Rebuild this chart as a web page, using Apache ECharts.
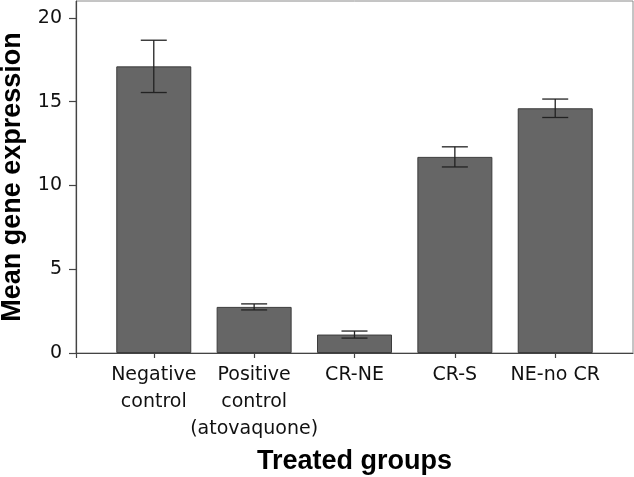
<!DOCTYPE html>
<html>
<head>
<meta charset="utf-8">
<script src="https://cdn.jsdelivr.net/npm/echarts@6/dist/echarts.min.js"></script>
<style>html,body{margin:0;padding:0;background:#fff;}#c{width:634px;height:477px;}</style>
</head>
<body>
<div id="c"></div>
<script>
var categories = ['Negative\ncontrol', 'Positive\ncontrol\n(atovaquone)', 'CR-NE', 'CR-S', 'NE-no CR'];
var means = [17.1, 2.75, 1.1, 11.7, 14.6];
var errors = [1.56, 0.18, 0.21, 0.6, 0.55];
var yTicks = [0, 5, 10, 15, 20];

// category slots placed at 1..5 on a value axis
var positions = categories.map(function (_, i) { return i + 1; });
var barData = means.map(function (m, i) { return [positions[i], m]; });
var errData = means.map(function (m, i) { return [positions[i], m - errors[i], m + errors[i]]; });
var xMin = 0.225, xMax = 5.775;
var xTickValues = [xMin].concat(positions);

var chart = echarts.init(document.getElementById('c'), null, { renderer: 'canvas' });
chart.setOption({
  animation: false,
  backgroundColor: '#fff',
  grid: { left: 76, right: 1, top: 1, bottom: 124, show: true, borderColor: '#8a8a8a', borderWidth: 1,
          backgroundColor: 'transparent', containLabel: false, outerBoundsMode: 'none' },
  xAxis: {
    type: 'value', min: xMin, max: xMax,
    name: 'Treated groups', nameLocation: 'middle', nameGap: 94,
    nameTextStyle: { fontFamily: 'Liberation Sans', fontWeight: 'bold', fontSize: 27, color: '#000' },
    axisLine: { show: true, onZero: false, lineStyle: { color: '#444', width: 1.2 } },
    axisTick: { show: true, length: 5, customValues: xTickValues, lineStyle: { color: '#444', width: 1.2 } },
    splitLine: { show: false },
    axisLabel: {
      customValues: xTickValues, margin: 9, hideOverlap: false, showMinLabel: true,
      fontFamily: 'DejaVu Sans', fontSize: 19, color: '#111', lineHeight: 27,
      formatter: function (v) {
        var k = Math.round(v);
        return Math.abs(v - k) < 1e-6 && categories[k - 1] ? categories[k - 1] : '';
      }
    }
  },
  yAxis: {
    type: 'value', min: 0, max: 21,
    name: 'Mean gene expression', nameLocation: 'middle', nameGap: 50,
    nameTextStyle: { fontFamily: 'Liberation Sans', fontWeight: 'bold', fontSize: 27, color: '#000' },
    axisLine: { show: true, onZero: false, lineStyle: { color: '#444', width: 1.2 } },
    axisTick: { show: true, length: 7, customValues: yTicks, lineStyle: { color: '#444', width: 1.2 } },
    splitLine: { show: false },
    axisLabel: { customValues: yTicks, margin: 14, fontFamily: 'DejaVu Sans', fontSize: 19, color: '#111' }
  },
  series: [
    {
      type: 'bar', data: barData, barWidth: 75,
      itemStyle: { color: '#666666', borderColor: '#3c3c3c', borderWidth: 1 }
    },
    {
      type: 'custom', data: errData, z: 5,
      renderItem: function (params, api) {
        var x = api.value(0);
        var lo = api.coord([x, api.value(1)]);
        var hi = api.coord([x, api.value(2)]);
        var hw = 13;
        var st = { stroke: '#222', lineWidth: 1.3 };
        return {
          type: 'group',
          children: [
            { type: 'line', shape: { x1: hi[0], y1: hi[1], x2: lo[0], y2: lo[1] }, style: st },
            { type: 'line', shape: { x1: hi[0] - hw, y1: hi[1], x2: hi[0] + hw, y2: hi[1] }, style: st },
            { type: 'line', shape: { x1: lo[0] - hw, y1: lo[1], x2: lo[0] + hw, y2: lo[1] }, style: st }
          ]
        };
      }
    }
  ]
});
</script>
</body>
</html>
